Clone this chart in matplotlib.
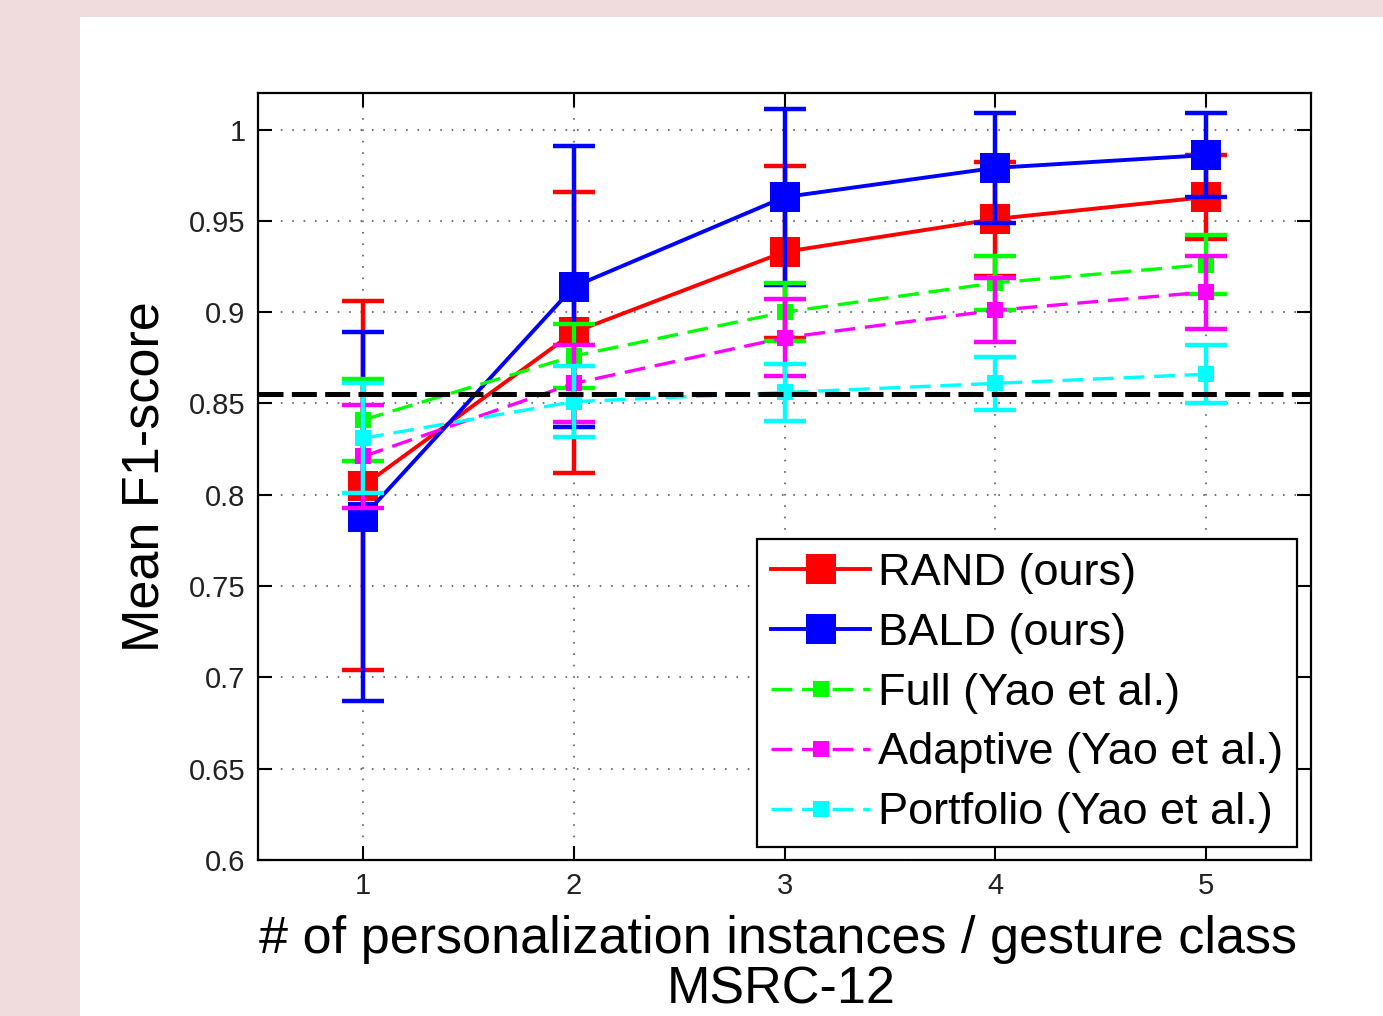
import matplotlib
matplotlib.use('Agg')
import matplotlib.pyplot as plt
from matplotlib.patches import Rectangle

# values
x_vals = [1, 2, 3, 4, 5]
rand_mean = [0.805, 0.889, 0.933, 0.951, 0.963]
rand_err = [0.101, 0.077, 0.047, 0.031, 0.023]
bald_mean = [0.788, 0.914, 0.963, 0.979, 0.986]
bald_err = [0.101, 0.077, 0.048, 0.030, 0.023]
full_mean = [0.841, 0.876, 0.900, 0.916, 0.926]
full_err = [0.0225, 0.0175, 0.016, 0.015, 0.016]
adapt_mean = [0.821, 0.861, 0.886, 0.901, 0.911]
adapt_err = [0.028, 0.021, 0.021, 0.0175, 0.020]
port_mean = [0.831, 0.851, 0.856, 0.861, 0.866]
port_err = [0.030, 0.0195, 0.0155, 0.0145, 0.016]
baseline = 0.855

labels = ["RAND (ours)", "BALD (ours)", "Full (Yao et al.)",
          "Adaptive (Yao et al.)", "Portfolio (Yao et al.)"]
yticks = [0.6, 0.65, 0.7, 0.75, 0.8, 0.85, 0.9, 0.95, 1]
ytick_labels = ['0.6', '0.65', '0.7', '0.75', '0.8', '0.85', '0.9', '0.95', '1']

plt.rcParams['font.family'] = ['Liberation Sans', 'DejaVu Sans']
plt.rcParams['lines.scale_dashes'] = False

fig = plt.figure(figsize=(13.83, 10.16), dpi=100)
fig.patch.set_facecolor('#f0dcdc')
fig.patches.append(Rectangle((80 / 1383, 0), 1, 1 - 17 / 1016, transform=fig.transFigure,
                             facecolor='white', edgecolor='none', zorder=-10))

ax = fig.add_axes([258 / 1383, 1 - 860 / 1016, (1311 - 258) / 1383, (860 - 93) / 1016])

series = [
    (rand_mean, rand_err, '#ff0000', '-', 2.8, 21),
    (bald_mean, bald_err, '#0000ff', '-', 2.8, 21),
    (full_mean, full_err, '#00ff00', '--', 2.4, 12),
    (adapt_mean, adapt_err, '#ff00ff', '--', 2.4, 12),
    (port_mean, port_err, '#00ffff', '--', 2.4, 12),
]

handles = []
for i, (m, e, c, ls, lw, ms) in enumerate(series):
    cont = ax.errorbar(x_vals, m, yerr=e, color=c, ecolor=c, linestyle=ls, linewidth=lw,
                       marker='s', markersize=ms,
                       elinewidth=3.2, capsize=15, capthick=3.2, zorder=3 + i)
    cont[0].set_markeredgewidth(0)
    if ls == '--':
        cont[0].set_dashes((15, 7))
    handles.append(cont[0])

base = ax.axhline(baseline, color='black', linewidth=3.6, zorder=10)
base.set_dashes((18, 6))

ax.set_xlim(0.5, 5.5)
ax.set_ylim(0.6, 1.02)
ax.set_xticks(x_vals)
ax.set_yticks(yticks)
ax.set_yticklabels(ytick_labels)
ax.grid(True, color='#777777', linestyle=(0, (1.2, 7)), linewidth=1.5, zorder=1)
ax.set_axisbelow(True)
ax.tick_params(direction='in', length=10, width=1.5, labelsize=21, pad=9,
               top=True, right=True, colors='black', labelcolor='#222222')
for s in ax.spines.values():
    s.set_linewidth(1.6)

ax.set_ylabel('Mean F1-score', fontsize=37.5, labelpad=14)
fig.text(778 / 1383, 1 - 940 / 1016, '# of personalization instances / gesture class',
         fontsize=37.5, ha='center', va='center')
fig.text(781 / 1383, 1 - 1015 / 1016, 'MSRC-12', fontsize=37.5, ha='center', va='bottom')

leg = ax.legend(handles, labels, loc='lower right', bbox_to_anchor=(0.9867, 0.017),
                borderaxespad=0, fontsize=32.5, handlelength=2.2, handletextpad=0.18,
                labelspacing=0.42, borderpad=0.3, fancybox=False, framealpha=1,
                edgecolor='black')
leg.get_frame().set_linewidth(1.6)

fig.savefig('out.png', dpi=100, facecolor=fig.get_facecolor())
